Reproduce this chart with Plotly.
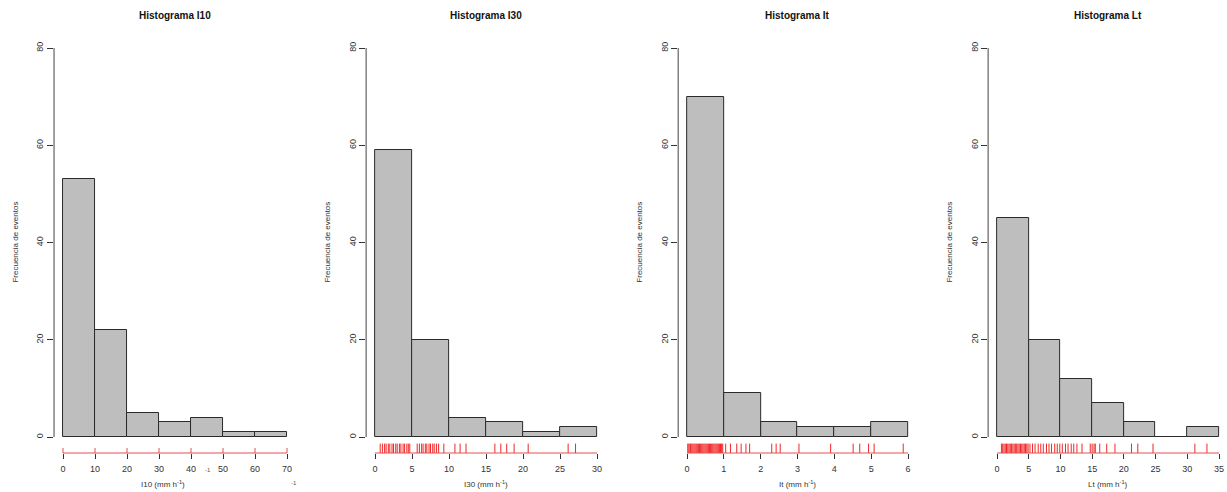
import plotly.graph_objects as go

# ---------------- data ----------------
titles = ["Histograma I10", "Histograma I30", "Histograma It", "Histograma Lt"]
xtitles = ["I10 (mm h<sup>-1</sup>)", "I30 (mm h<sup>-1</sup>)", "It (mm h<sup>-1</sup>)", "Lt (mm h<sup>-1</sup>)"]

i10_breaks = [0, 10, 20, 30, 40, 50, 60, 70]
i10_counts = [53, 22, 5, 3, 4, 1, 1]

i30_breaks = [0, 5, 10, 15, 20, 25, 30]
i30_counts = [59, 20, 4, 3, 1, 2]

it_breaks = [0, 1, 2, 3, 4, 5, 6]
it_counts = [70, 9, 3, 2, 2, 3]

lt_breaks = [0, 5, 10, 15, 20, 25, 30, 35]
lt_counts = [45, 20, 12, 7, 3, 0, 2]

i10_rug = []
i30_rug = [0.7, 1.0, 1.3, 1.5, 1.8, 2.0, 2.3, 2.5, 2.8, 3.0, 3.3, 3.5, 3.8, 4.0, 4.3, 4.5, 4.7,
           5.7, 6.0, 6.3, 6.5, 6.8, 7.0, 7.3, 7.5, 7.8, 8.0, 8.3, 8.6, 9.3,
           10.8, 11.5, 12.3, 16.2, 17.0, 17.8, 18.8, 20.7, 26.1, 27.1]
it_rug = [0.02, 0.05, 0.08, 0.10, 0.13, 0.16, 0.19, 0.22, 0.25, 0.28, 0.31, 0.34, 0.37, 0.40,
          0.43, 0.46, 0.49, 0.52, 0.55, 0.58, 0.61, 0.64, 0.67, 0.70, 0.73, 0.76, 0.79, 0.82,
          0.85, 0.88, 0.91, 0.94, 0.97,
          1.05, 1.18, 1.35, 1.47, 1.60, 1.70, 2.30, 2.42, 2.53, 3.04, 3.90,
          4.51, 4.69, 4.93, 5.08, 5.87]
lt_rug = [0.7, 0.9, 1.1, 1.3, 1.5, 1.7, 1.9, 2.1, 2.3, 2.5, 2.7, 2.9, 3.1, 3.3, 3.5, 3.7, 3.9,
          4.1, 4.3, 4.5, 4.7, 4.9, 5.2, 5.6, 6.0, 6.5, 6.9, 7.3, 7.8, 8.2, 8.6, 9.1, 9.5, 9.9,
          10.3, 10.8, 11.2, 11.7, 12.1, 12.6, 13.4, 14.7, 15.0, 15.3, 15.5, 16.2, 17.3, 18.6,
          21.2, 22.2, 24.6, 31.2, 33.1]

y_ticks = [0, 20, 40, 60, 80]

panels = [
    (i10_breaks, i10_counts, i10_rug),
    (i30_breaks, i30_counts, i30_rug),
    (it_breaks, it_counts, it_rug),
    (lt_breaks, lt_counts, lt_rug),
]

# ---------------- layout geometry (pixels) ----------------
W, H = 1227, 492
x_px = [(63, 287), (375, 597), (687, 908), (997, 1219)]
y0_px, y80_px = 437, 48          # pixel of y=0 and y=80
ybot_px, ytop_px = 453, 32       # plot region
FONT = "Liberation Sans, Arial, sans-serif"
RUG_COLOR = "rgba(240,0,0,0.85)"

sy = (y0_px - y80_px) / 80.0
y_range = [-(ybot_px - y0_px) / sy, 80 + (y80_px - ytop_px) / sy]
y_dom = [1 - ybot_px / H, 1 - ytop_px / H]
rug_y = -(448.5 - y0_px) / sy

fig = go.Figure()
shapes = []
annotations = []

for k, ((breaks, counts, rug), (x0, x1)) in enumerate(zip(panels, x_px)):
    n = k + 1
    xa = "x" if n == 1 else f"x{n}"
    ya = "y" if n == 1 else f"y{n}"
    xmax = breaks[-1]
    span = x1 - x0
    L = x0 - 0.04 * span
    R = min(x1 + 0.04 * span, W)
    s = span / xmax
    x_range = [(L - x0) / s, xmax + (R - x1) / s]

    centers = [(a + b) / 2 for a, b in zip(breaks[:-1], breaks[1:])]
    widths = [b - a for a, b in zip(breaks[:-1], breaks[1:])]
    fig.add_trace(go.Bar(
        x=centers, y=counts, width=widths,
        marker=dict(color="#BEBEBE", line=dict(color="#2a2a2a", width=1)),
        xaxis=xa, yaxis=ya, showlegend=False, hoverinfo="skip"))

    if rug:
        fig.add_trace(go.Scatter(
            x=rug, y=[rug_y] * len(rug), mode="markers",
            marker=dict(symbol="line-ns-open", size=7, color=RUG_COLOR,
                        line=dict(color=RUG_COLOR, width=1)),
            xaxis=xa, yaxis=ya, showlegend=False, hoverinfo="skip"))

    ax_key = "xaxis" if n == 1 else f"xaxis{n}"
    ay_key = "yaxis" if n == 1 else f"yaxis{n}"
    fig.update_layout(**{
        ax_key: dict(domain=[L / W, R / W], range=x_range, anchor=ya,
                     tickvals=breaks, ticktext=[str(b) for b in breaks],
                     ticks="outside", ticklen=5, tickcolor="#333", tickwidth=1,
                     showline=False, showgrid=False, zeroline=False,
                     tickfont=dict(family=FONT, size=9, color="#333"),
                     ticklabelstandoff=2, fixedrange=True),
        ay_key: dict(domain=y_dom, range=y_range, anchor=xa,
                     tickvals=y_ticks, ticktext=[str(t) for t in y_ticks],
                     ticks="outside", ticklen=6, tickcolor="#333", tickwidth=1,
                     tickangle=-90, showline=False, showgrid=False, zeroline=False,
                     tickfont=dict(family=FONT, size=9, color="#333"),
                     fixedrange=True),
    })

    # axis lines spanning only the tick range (R style)
    shapes.append(dict(type="line", xref=f"{xa} domain", yref=ya, x0=0, x1=0,
                       y0=0, y1=80, line=dict(color="#444", width=1)))
    shapes.append(dict(type="line", xref=xa, yref=f"{ya} domain", x0=0, x1=xmax,
                       y0=0, y1=0, line=dict(color="#e05050", width=1)))
    if n == 1:
        for b in breaks:
            shapes.append(dict(type="line", xref=xa, yref="paper", x0=b, x1=b,
                               y0=1 - 453 / H, y1=1 - 448 / H,
                               line=dict(color="#e05050", width=1)))

    cx = (L + R) / 2 / W
    annotations.append(dict(text=f"<b>{titles[k]}</b>", x=cx, y=1 - 15 / H,
                            xref="paper", yref="paper", showarrow=False,
                            font=dict(family=FONT, size=10, color="#111"),
                            xanchor="center", yanchor="middle"))
    annotations.append(dict(text=xtitles[k], x=(x0 + x1) / 2 / W - (0.01 if n == 1 else 0),
                            y=1 - 484 / H,
                            xref="paper", yref="paper", showarrow=False,
                            font=dict(family=FONT, size=8, color="#333"),
                            xanchor="center", yanchor="middle"))
    annotations.append(dict(text="Frecuencia de eventos", x=(L - 39) / W, y=40,
                            xref="paper", yref=ya, showarrow=False, textangle=-90,
                            font=dict(family=FONT, size=8, color="#333"),
                            xanchor="center", yanchor="middle"))

# stray superscripts in first panel
annotations.append(dict(text="-1", x=203 / W, y=1 - 475 / H, xref="paper", yref="paper",
                        showarrow=False, font=dict(family=FONT, size=6, color="#555")))
annotations.append(dict(text="-1", x=289 / W, y=1 - 488 / H, xref="paper", yref="paper",
                        showarrow=False, font=dict(family=FONT, size=6, color="#555")))

fig.update_layout(
    width=W, height=H, margin=dict(l=0, r=0, t=0, b=0),
    paper_bgcolor="white", plot_bgcolor="white", bargap=0,
    shapes=shapes, annotations=annotations, showlegend=False,
    font=dict(family=FONT),
)

fig.write_html("out.html")
